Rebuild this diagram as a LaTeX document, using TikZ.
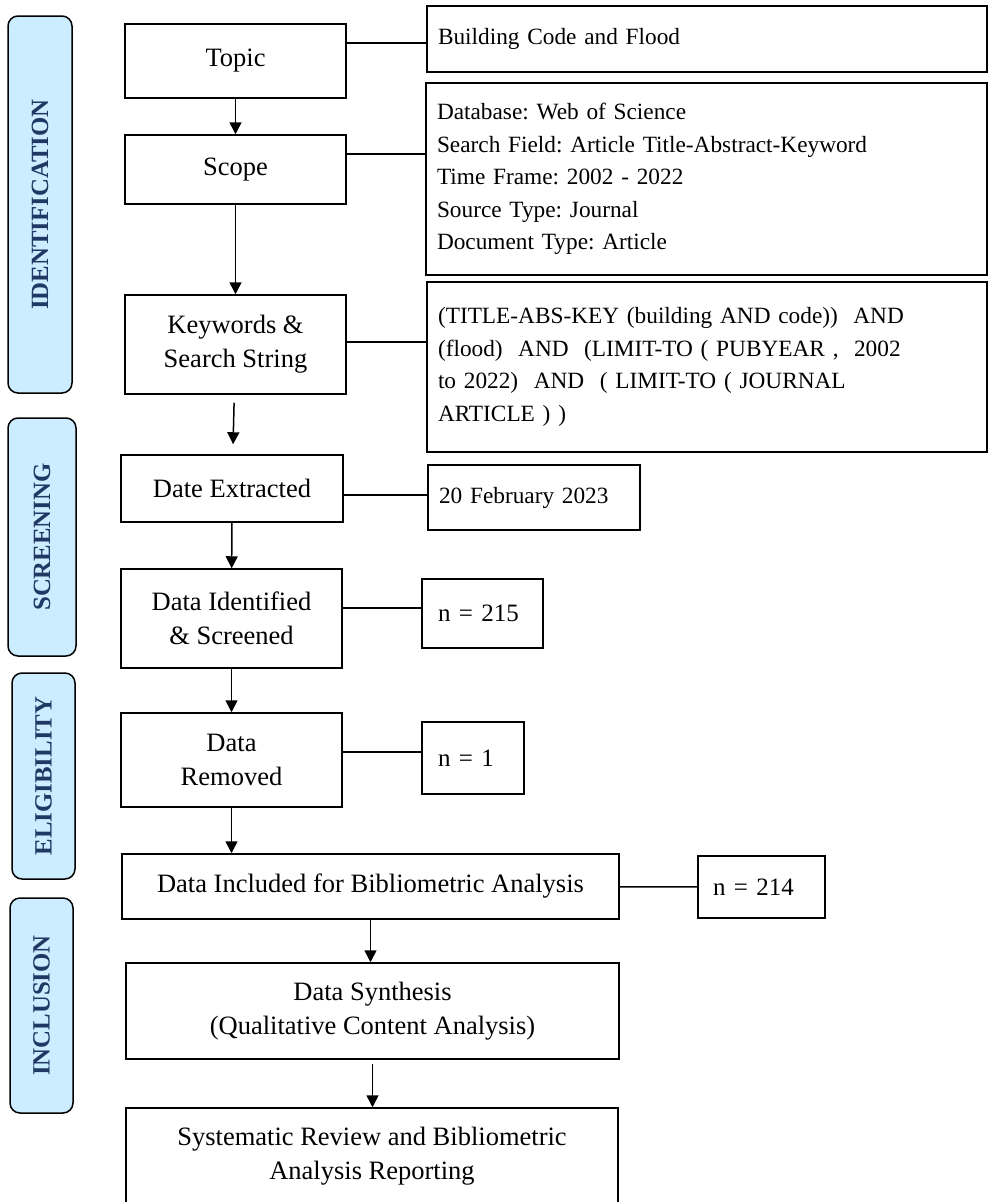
\documentclass[tikz,border=0pt]{standalone}
\usepackage{fontspec}
\setmainfont{Liberation Serif}
\usepackage{tikz}
\usetikzlibrary{arrows.meta}
\definecolor{stagefill}{RGB}{204,236,255}
\definecolor{stagetext}{RGB}{31,56,100}
\frenchspacing
\tikzset{
  flow/.style={draw, line width=1.5pt, align=center, inner sep=0pt,
    font=\fontsize{26.5}{34}\selectfont},
  info/.style={flow, align=left, inner xsep=11pt,
    font=\fontsize{23.3}{32.5}\selectfont},
  count/.style={info, font=\fontsize{25}{30}\selectfont},
  stage/.style={draw, line width=1.5pt, fill=stagefill, rounded corners=10pt,
    rotate=90, inner sep=0pt, text=stagetext,
    font=\fontsize{24.8}{28}\selectfont\bfseries},
  link/.style={line width=1.5pt}
}
\newcommand{\stagelabel}[6]{\node[stage, minimum width=#5pt, minimum height=#4pt] (#1) at (#2,#3) {#6};}
\newcommand{\flowbox}[6]{\node[flow, minimum width=#4pt, minimum height=#5pt] (#1) at (#2,#3) {#6};}
\newcommand{\infobox}[7]{\node[info, text width=#6pt, minimum height=#5pt] (#1) at (#2,#3) {#7};}

\begin{document}
\begin{tikzpicture}[x=1pt,y=-1pt,>={Triangle[width=12pt,length=12pt]}]
  \useasboundingbox (0,0) rectangle (988,1202);

  % stages
  \stagelabel{identification}{40}{204.5}{64}{377}{IDENTIFICATION}
  \stagelabel{screening}{42}{537}{68}{238}{SCREENING}
  \stagelabel{eligibility}{43.5}{776}{63}{206}{ELIGIBILITY}
  \stagelabel{inclusion}{41.5}{1005.5}{63}{215}{INCLUSION}

  % main column
  \flowbox{topic}{235.5}{61}{221}{74}{Topic}
  \flowbox{scope}{235.5}{169.5}{221}{69}{Scope}
  \flowbox{keywords}{235.5}{344.5}{221}{99}{Keywords \&\\Search String}
  \flowbox{extracted}{232}{488.5}{222}{67}{Date Extracted}
  \flowbox{screened}{231.5}{618.5}{221}{99}{Data Identified\\\& Screened}
  \flowbox{removed}{231.5}{760}{221}{94}{Data\\Removed}
  \flowbox{included}{370.5}{886.5}{497}{65}{Data Included for Bibliometric Analysis}
  \flowbox{synthesis}{372.5}{1011}{493}{96}{Data Synthesis\\(Qualitative Content Analysis)}
  \flowbox{reporting}{372}{1156}{492}{96}{Systematic Review and Bibliometric\\Analysis Reporting}

  % side boxes
  \infobox{building}{707}{39}{560}{66}{538}{Building Code and Flood}
  \infobox{database}{706.5}{179}{561}{192}{539}{Database: Web of Science\\Search Field: Article Title-Abstract-Keyword\\Time Frame: 2002 - 2022\\Source Type: Journal\\Document Type: Article}
  \infobox{query}{707}{367}{560}{170}{538}{(TITLE-ABS-KEY (building AND code))~~AND\\(flood)~~AND~~(LIMIT-TO ( PUBYEAR ,~~2002\\to 2022)~~AND~~( LIMIT-TO ( JOURNAL\\ARTICLE ) )}
  \infobox{datefeb}{534}{497.5}{212}{65}{190}{20 February 2023}
  \node[count, inner xsep=16pt, text width=89pt, minimum height=69pt] (nscreened) at (482.5,613.5) {n = 215};
  \node[count, inner xsep=16pt, text width=70pt, minimum height=72pt] (nremoved) at (473,758) {n = 1};
  \node[count, inner xsep=15pt, text width=97pt, minimum height=62pt] (nincluded) at (761.5,887) {n = 214};

  % arrows
  \draw[link,->] (topic) -- (scope);
  \draw[link,->] (scope) -- (keywords);
  \draw[link,->,shorten <=8pt,shorten >=10pt] (keywords) -- (extracted);
  \draw[link,->] (extracted) -- (screened);
  \draw[link,->] (screened) -- (removed);
  \draw[link,->] (removed.south) -- (removed.south |- included.north);
  \draw[link,->] (included.south) -- (included.south |- synthesis.north);
  \draw[link,->,shorten <=4pt] (synthesis.south) -- (synthesis.south |- reporting.north);

  % side lines
  \draw[link] ([yshift=18pt]topic.east) -- ([yshift=-4pt]building.west);
  \draw[link] ([yshift=15.5pt]scope.east) -- ([yshift=25pt]database.west);
  \draw[link] ([yshift=2.5pt]keywords.east) -- ([yshift=25pt]query.west);
  \draw[link] ([yshift=-6.5pt]extracted.east) -- ([yshift=2.5pt]datefeb.west);
  \draw[link] ([yshift=10.5pt]screened.east) -- ([yshift=5.5pt]nscreened.west);
  \draw[link] ([yshift=8pt]removed.east) -- ([yshift=6pt]nremoved.west);
  \draw[link] (included) -- (nincluded);
\end{tikzpicture}
\end{document}
